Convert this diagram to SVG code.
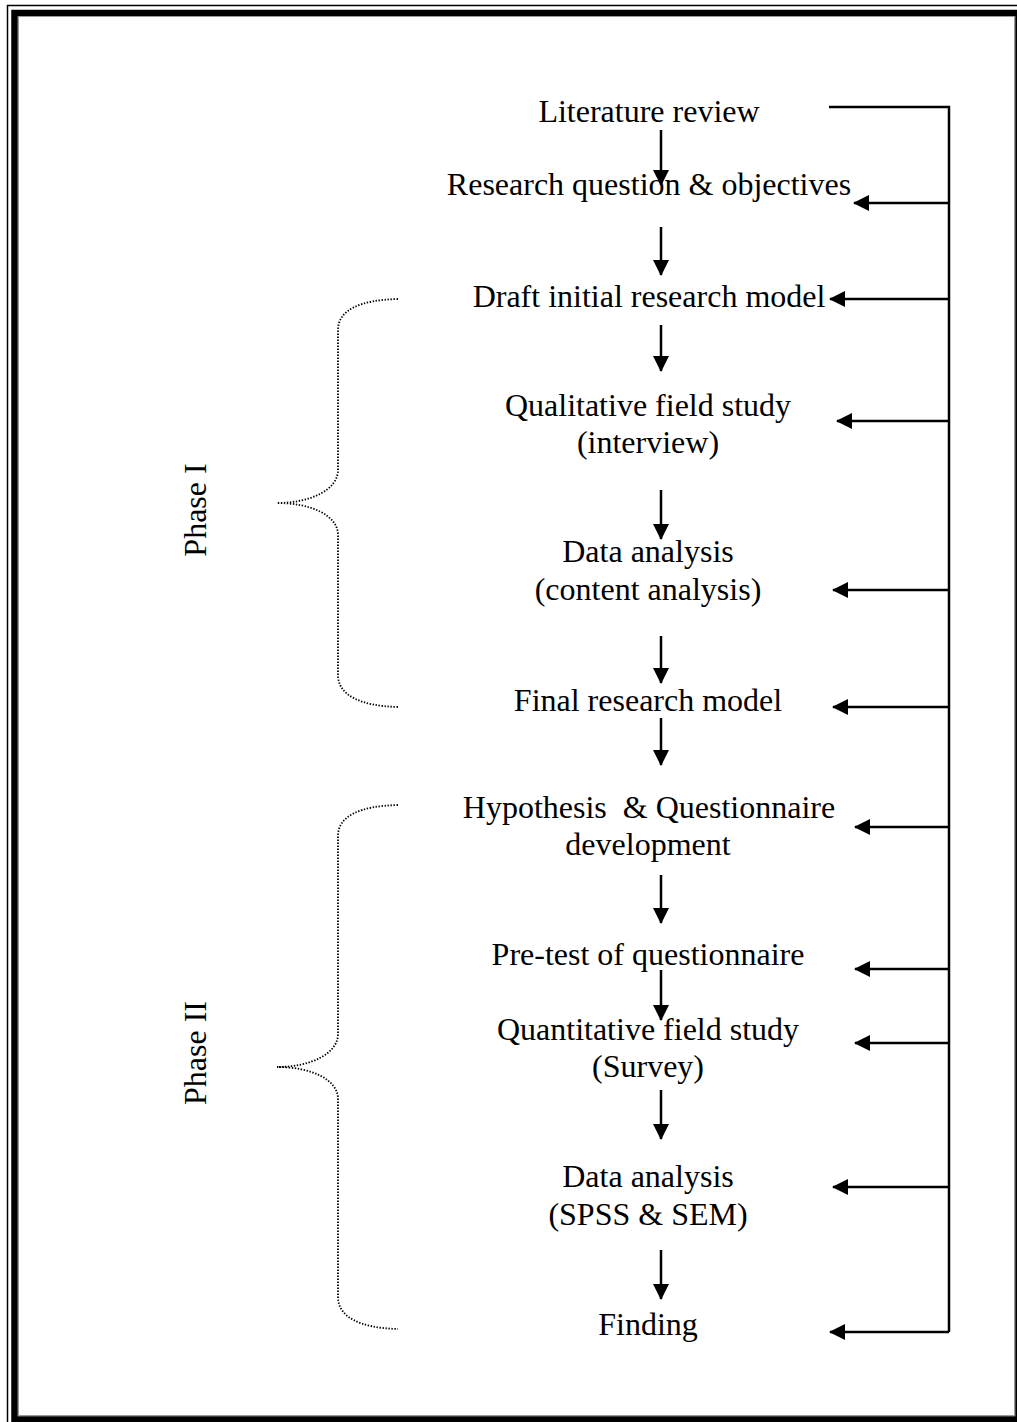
<svg xmlns="http://www.w3.org/2000/svg" width="1017" height="1422" viewBox="0 0 1017 1422">
<style>
  text { font-family: "Liberation Serif", "Times New Roman", serif; font-size: 32px; fill: #000; text-anchor: middle; }
  .conn { stroke: #000; stroke-width: 2.5; fill: none; }
  .brace { stroke: #000; stroke-width: 1.8; fill: none; stroke-dasharray: 1.4 1.6; }
</style>
<defs>
  <marker id="ah" markerWidth="16" markerHeight="16" viewBox="0 0 16 16" refX="15" refY="8" orient="auto" markerUnits="userSpaceOnUse">
    <path d="M0,0 L16,8 L0,16 Z" fill="#000"/>
  </marker>
</defs>
<rect x="0" y="0" width="1017" height="1422" fill="#fff"/>
<g id="frame">
  <rect x="7.5" y="5.5" width="1030" height="1430" fill="none" stroke="#000" stroke-width="1.5"/>
  <rect x="14.5" y="13" width="1004" height="1406.5" fill="none" stroke="#000" stroke-width="6.5"/>
  <rect x="18.5" y="16.5" width="996" height="1399" fill="none" stroke="#999" stroke-width="1"/>
</g>
<g id="n1"><text x="649" y="122">Literature review</text></g>
<g id="n2"><text x="649" y="195">Research question &amp; objectives</text></g>
<g id="n3"><text x="649" y="307">Draft initial research model</text></g>
<g id="n4"><text x="648" y="416">Qualitative field study</text><text x="648" y="453">(interview)</text></g>
<g id="n5"><text x="648" y="562">Data analysis</text><text x="648" y="600">(content analysis)</text></g>
<g id="n6"><text x="648" y="711">Final research model</text></g>
<g id="n7"><text x="649" y="818" xml:space="preserve">Hypothesis  &amp; Questionnaire</text><text x="648" y="855">development</text></g>
<g id="n8"><text x="648" y="965">Pre-test of questionnaire</text></g>
<g id="n9"><text x="648" y="1040">Quantitative field study</text><text x="648" y="1077">(Survey)</text></g>
<g id="n10"><text x="648" y="1187">Data analysis</text><text x="648" y="1225">(SPSS &amp; SEM)</text></g>
<g id="n11"><text x="648" y="1335">Finding</text></g>
<g id="phase1">
  <path class="brace" d="M398,299 C360,300 338,310 338,330 L338,470 C338,490 310,503 277,503 C310,503 338,515 338,535 L338,675 C338,695 360,706 398,707"/>
  <text transform="translate(206,510) rotate(-90)">Phase I</text>
</g>
<g id="phase2">
  <path class="brace" d="M398,805 C360,806 338,816 338,836 L338,1034 C338,1054 310,1067 277,1067 C310,1067 338,1079 338,1099 L338,1297 C338,1317 360,1328 398,1329"/>
  <text transform="translate(206,1053) rotate(-90)">Phase II</text>
</g>
<g id="connectors">
  <line class="conn" x1="661" y1="130" x2="661" y2="185" marker-end="url(#ah)"/>
  <line class="conn" x1="661" y1="227" x2="661" y2="275" marker-end="url(#ah)"/>
  <line class="conn" x1="661" y1="325" x2="661" y2="371" marker-end="url(#ah)"/>
  <line class="conn" x1="661" y1="490" x2="661" y2="539" marker-end="url(#ah)"/>
  <line class="conn" x1="661" y1="636" x2="661" y2="683" marker-end="url(#ah)"/>
  <line class="conn" x1="661" y1="718" x2="661" y2="765" marker-end="url(#ah)"/>
  <line class="conn" x1="661" y1="875" x2="661" y2="923" marker-end="url(#ah)"/>
  <line class="conn" x1="661" y1="970" x2="661" y2="1020" marker-end="url(#ah)"/>
  <line class="conn" x1="661" y1="1090" x2="661" y2="1139" marker-end="url(#ah)"/>
  <line class="conn" x1="661" y1="1250" x2="661" y2="1299" marker-end="url(#ah)"/>
  <polyline class="conn" points="829,107 949,107 949,1332"/>
  <line class="conn" x1="949" y1="203" x2="854" y2="203" marker-end="url(#ah)"/>
  <line class="conn" x1="949" y1="299" x2="830" y2="299" marker-end="url(#ah)"/>
  <line class="conn" x1="949" y1="421" x2="837" y2="421" marker-end="url(#ah)"/>
  <line class="conn" x1="949" y1="590" x2="833" y2="590" marker-end="url(#ah)"/>
  <line class="conn" x1="949" y1="707" x2="833" y2="707" marker-end="url(#ah)"/>
  <line class="conn" x1="949" y1="827" x2="855" y2="827" marker-end="url(#ah)"/>
  <line class="conn" x1="949" y1="969" x2="855" y2="969" marker-end="url(#ah)"/>
  <line class="conn" x1="949" y1="1043" x2="855" y2="1043" marker-end="url(#ah)"/>
  <line class="conn" x1="949" y1="1187" x2="833" y2="1187" marker-end="url(#ah)"/>
  <line class="conn" x1="949" y1="1332" x2="830" y2="1332" marker-end="url(#ah)"/>
</g>
</svg>
